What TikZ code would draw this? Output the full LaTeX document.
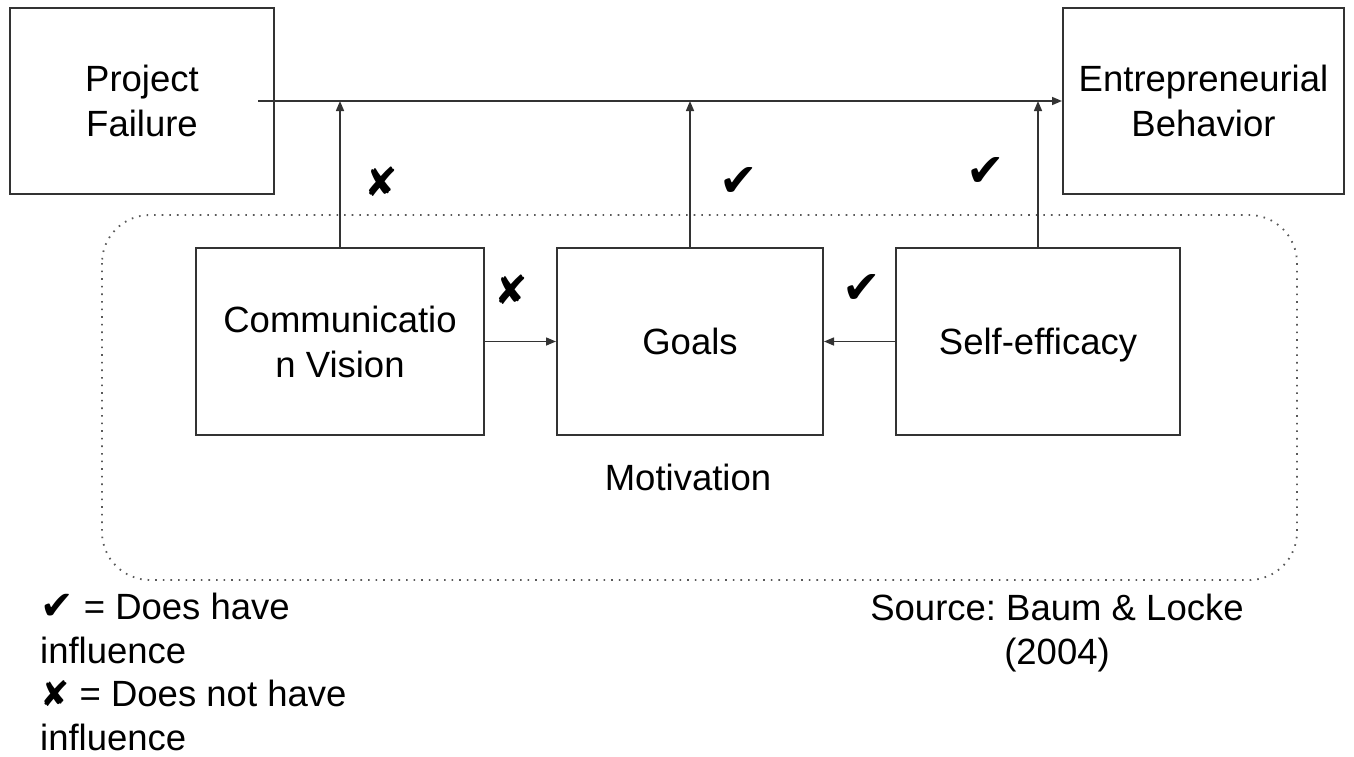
\documentclass[tikz,border=0pt]{standalone}
\usepackage{fontspec}
\setmainfont{Liberation Sans}
\newfontfamily\symfont{DejaVu Sans}
\usetikzlibrary{arrows.meta}
\frenchspacing
\tikzset{
  box/.style={draw=black!80, line width=2pt, inner sep=0pt, align=center,
    font=\fontsize{36.5}{45}\selectfont},
  oneline/.style={text height=26pt, text depth=0pt},
  link/.style={draw=black!80, line width=1.5pt, -{Triangle[length=10pt,width=8pt]}},
  tickmark/.style={font=\symfont\fontsize{46}{50}\selectfont, inner sep=0pt},
  crossmark/.style={font=\symfont\fontsize{40}{50}\selectfont, inner sep=0pt},
  plaintext/.style={font=\fontsize{36.5}{43.5}\selectfont, inner sep=0pt},
  groupbox/.style={draw=black!65, line width=1.8pt, dash pattern=on 1.6pt off 6pt, rounded corners=48pt}
}
\begin{document}
\begin{tikzpicture}[x=1pt,y=-1pt]
\useasboundingbox (0,0) rectangle (1354,756);
% motivation group
\draw[groupbox] (102,215) rectangle (1297,580);
\node[plaintext] (mot) at (688,477) {Motivation};
% boxes
\node[box, minimum width=264pt, minimum height=186pt] (pf) at (142,101) {Project\\Failure};
\node[box, minimum width=281pt, minimum height=186pt] (eb) at (1203.5,101) {Entrepreneurial\\Behavior};
\node[box, minimum width=288pt, minimum height=187pt] (cv) at (340,341.5) {Communicatio\\n Vision};
\node[box, oneline, minimum width=266pt, minimum height=187pt] (go) at (690,341.5) {Goals};
\node[box, oneline, minimum width=284pt, minimum height=187pt] (se) at (1038,341.5) {Self-efficacy};
% connectors
\coordinate (start) at (258,101);
\draw[link] (start) -- (eb.west);
\draw[link] (cv.north) -- (cv.north |- start);
\draw[link] (go.north) -- (go.north |- start);
\draw[link] (se.north) -- (se.north |- start);
\draw[link] (cv.east) -- (go.west);
\draw[link] (se.west) -- (go.east);
% marks
\node[crossmark] (m1) at (381,182) {✘};
\node[tickmark] (m2) at (739,182) {✔};
\node[tickmark] (m3) at (986,172) {✔};
\node[crossmark] (m4) at (511,290) {✘};
\node[tickmark] (m5) at (862,289) {✔};
% legend
\node[plaintext, anchor=north west, align=left] (legend) at (40,593)
  {{\symfont\fontsize{40}{40}\selectfont ✔} = Does have\\influence\\{\symfont\fontsize{35}{40}\selectfont ✘} = Does not have\\influence};
\node[plaintext, anchor=north, align=center] (src) at (1057,594) {Source: Baum \& Locke\\(2004)};
\end{tikzpicture}
\end{document}
